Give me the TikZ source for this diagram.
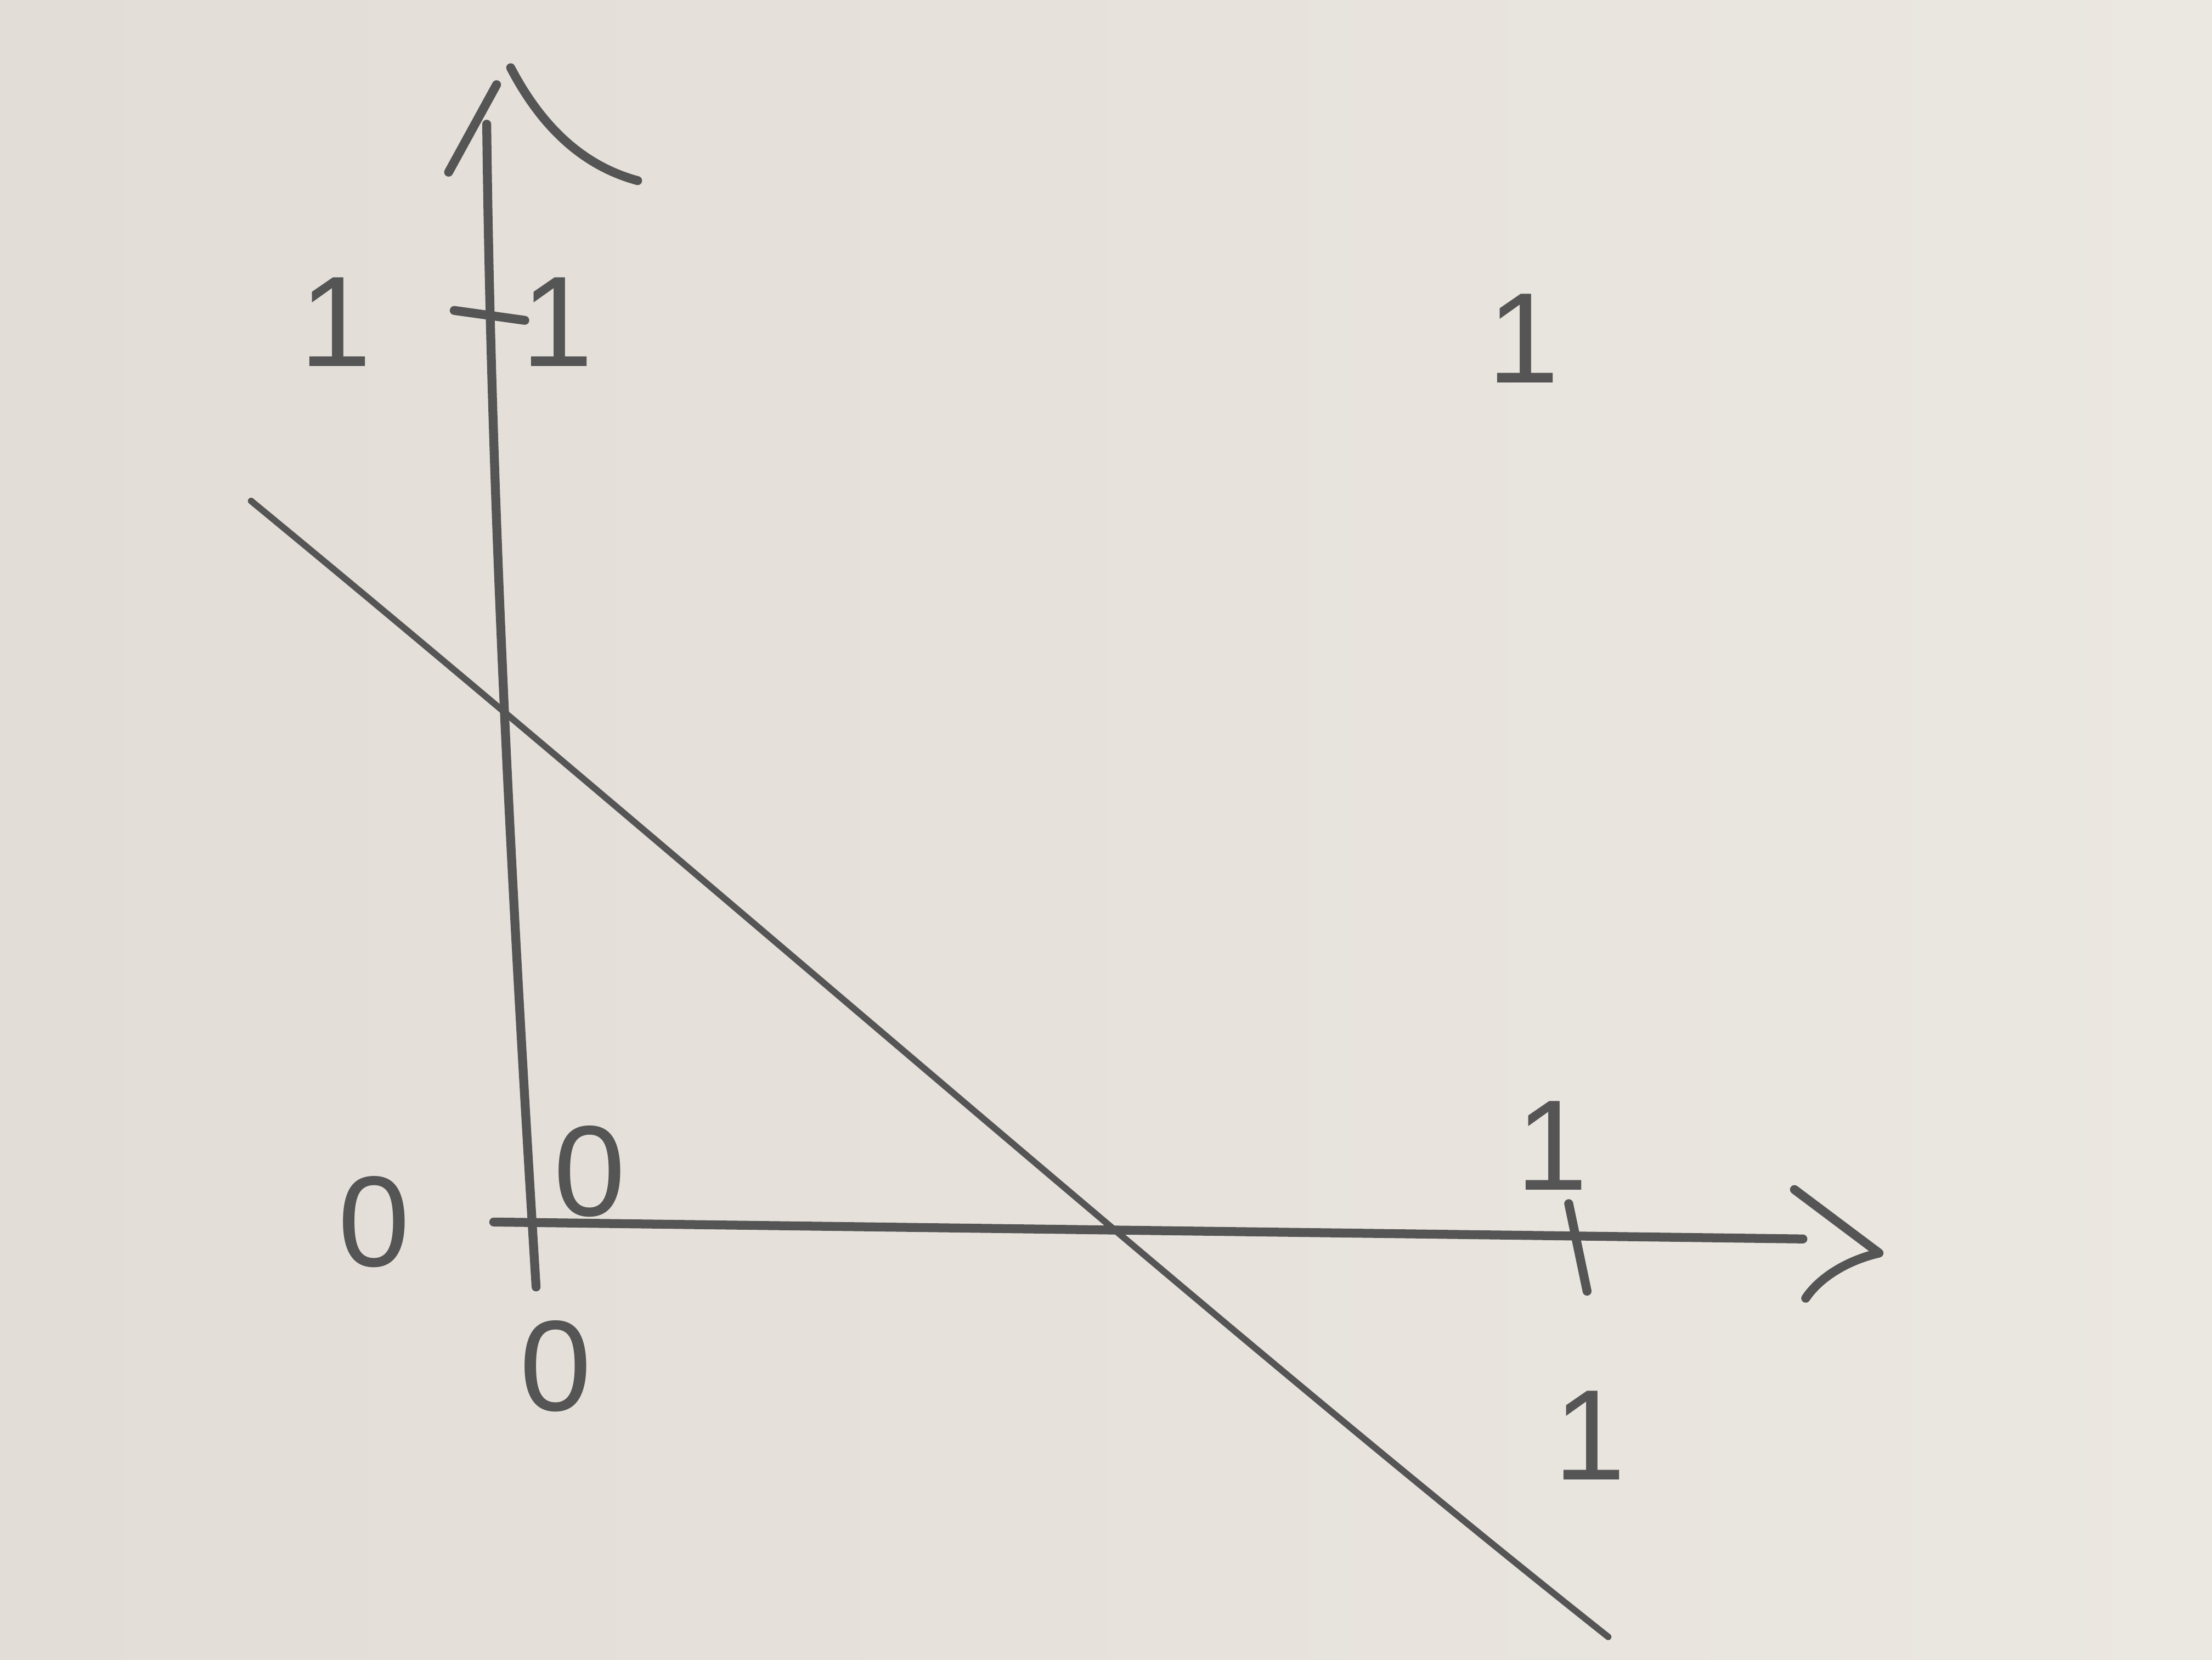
\documentclass[tikz,border=0pt]{standalone}
\usepackage{fontspec}
\setmainfont{Liberation Sans}
\begin{document}
\begin{tikzpicture}[x=0.1mm,y=-0.1mm,
  pencil/.style={draw=pencilgray, line cap=round, line join=round},
  axisline/.style={pencil, line width=1.8pt},
  cutline/.style={pencil, line width=1.3pt},
  lbl/.style={text=pencilgray, font=\fontsize{26}{30}\selectfont, inner sep=0pt}]
\definecolor{pencilgray}{RGB}{85,85,85}
\definecolor{paper}{RGB}{226,221,214}
\definecolor{paperlight}{RGB}{235,231,225}
% background (margins included)
\shade[left color=paper, right color=paperlight] (0,0) rectangle (1568,1176);
\useasboundingbox (0,0) rectangle (1568,1176);

% axes
\coordinate (ybot) at (380,912);
\coordinate (ytop) at (345,88);
\coordinate (xleft) at (350,866);
\coordinate (xright) at (1278,878);
\draw[axisline] (ybot) .. controls (362,620) and (348,350) .. (ytop);
\draw[axisline] (xleft) -- (xright);

% hand-drawn arrow heads
\coordinate (yah1) at (318,122);
\coordinate (yah2) at (352,60);
\coordinate (yah3) at (362,48);
\coordinate (yah4) at (452,128);
\draw[axisline] (yah1) -- (yah2);
\draw[axisline] (yah3) .. controls (385,92) and (415,118) .. (yah4);
\coordinate (xah1) at (1272,843);
\coordinate (xah2) at (1332,888);
\coordinate (xah3) at (1280,920);
\draw[axisline] (xah1) -- (xah2) .. controls (1310,893) and (1290,905) .. (xah3);

% ticks
\coordinate (yt1) at (322,220);
\coordinate (yt2) at (372,227);
\draw[axisline] (yt1) -- (yt2);
\coordinate (xt1) at (1112,853);
\coordinate (xt2) at (1125,915);
\draw[axisline] (xt1) -- (xt2);

% separating line
\coordinate (l1) at (178,355);
\coordinate (l2) at (1140,1160);
\draw[cutline] (l1) .. controls (500,620) and (850,930) .. (l2);

% labels
\node[lbl] (oneA) at (238,228) {1};
\node[lbl] (oneB) at (395,228) {1};
\node[lbl] (oneC) at (1080,240) {1};
\node[lbl] (oneD) at (1100,812) {1};
\node[lbl] (oneE) at (1127,1017) {1};
\node[lbl] (zeroA) at (265,866) {0};
\node[lbl] (zeroB) at (418,830) {0};
\node[lbl] (zeroC) at (394,968) {0};
\end{tikzpicture}
\end{document}
